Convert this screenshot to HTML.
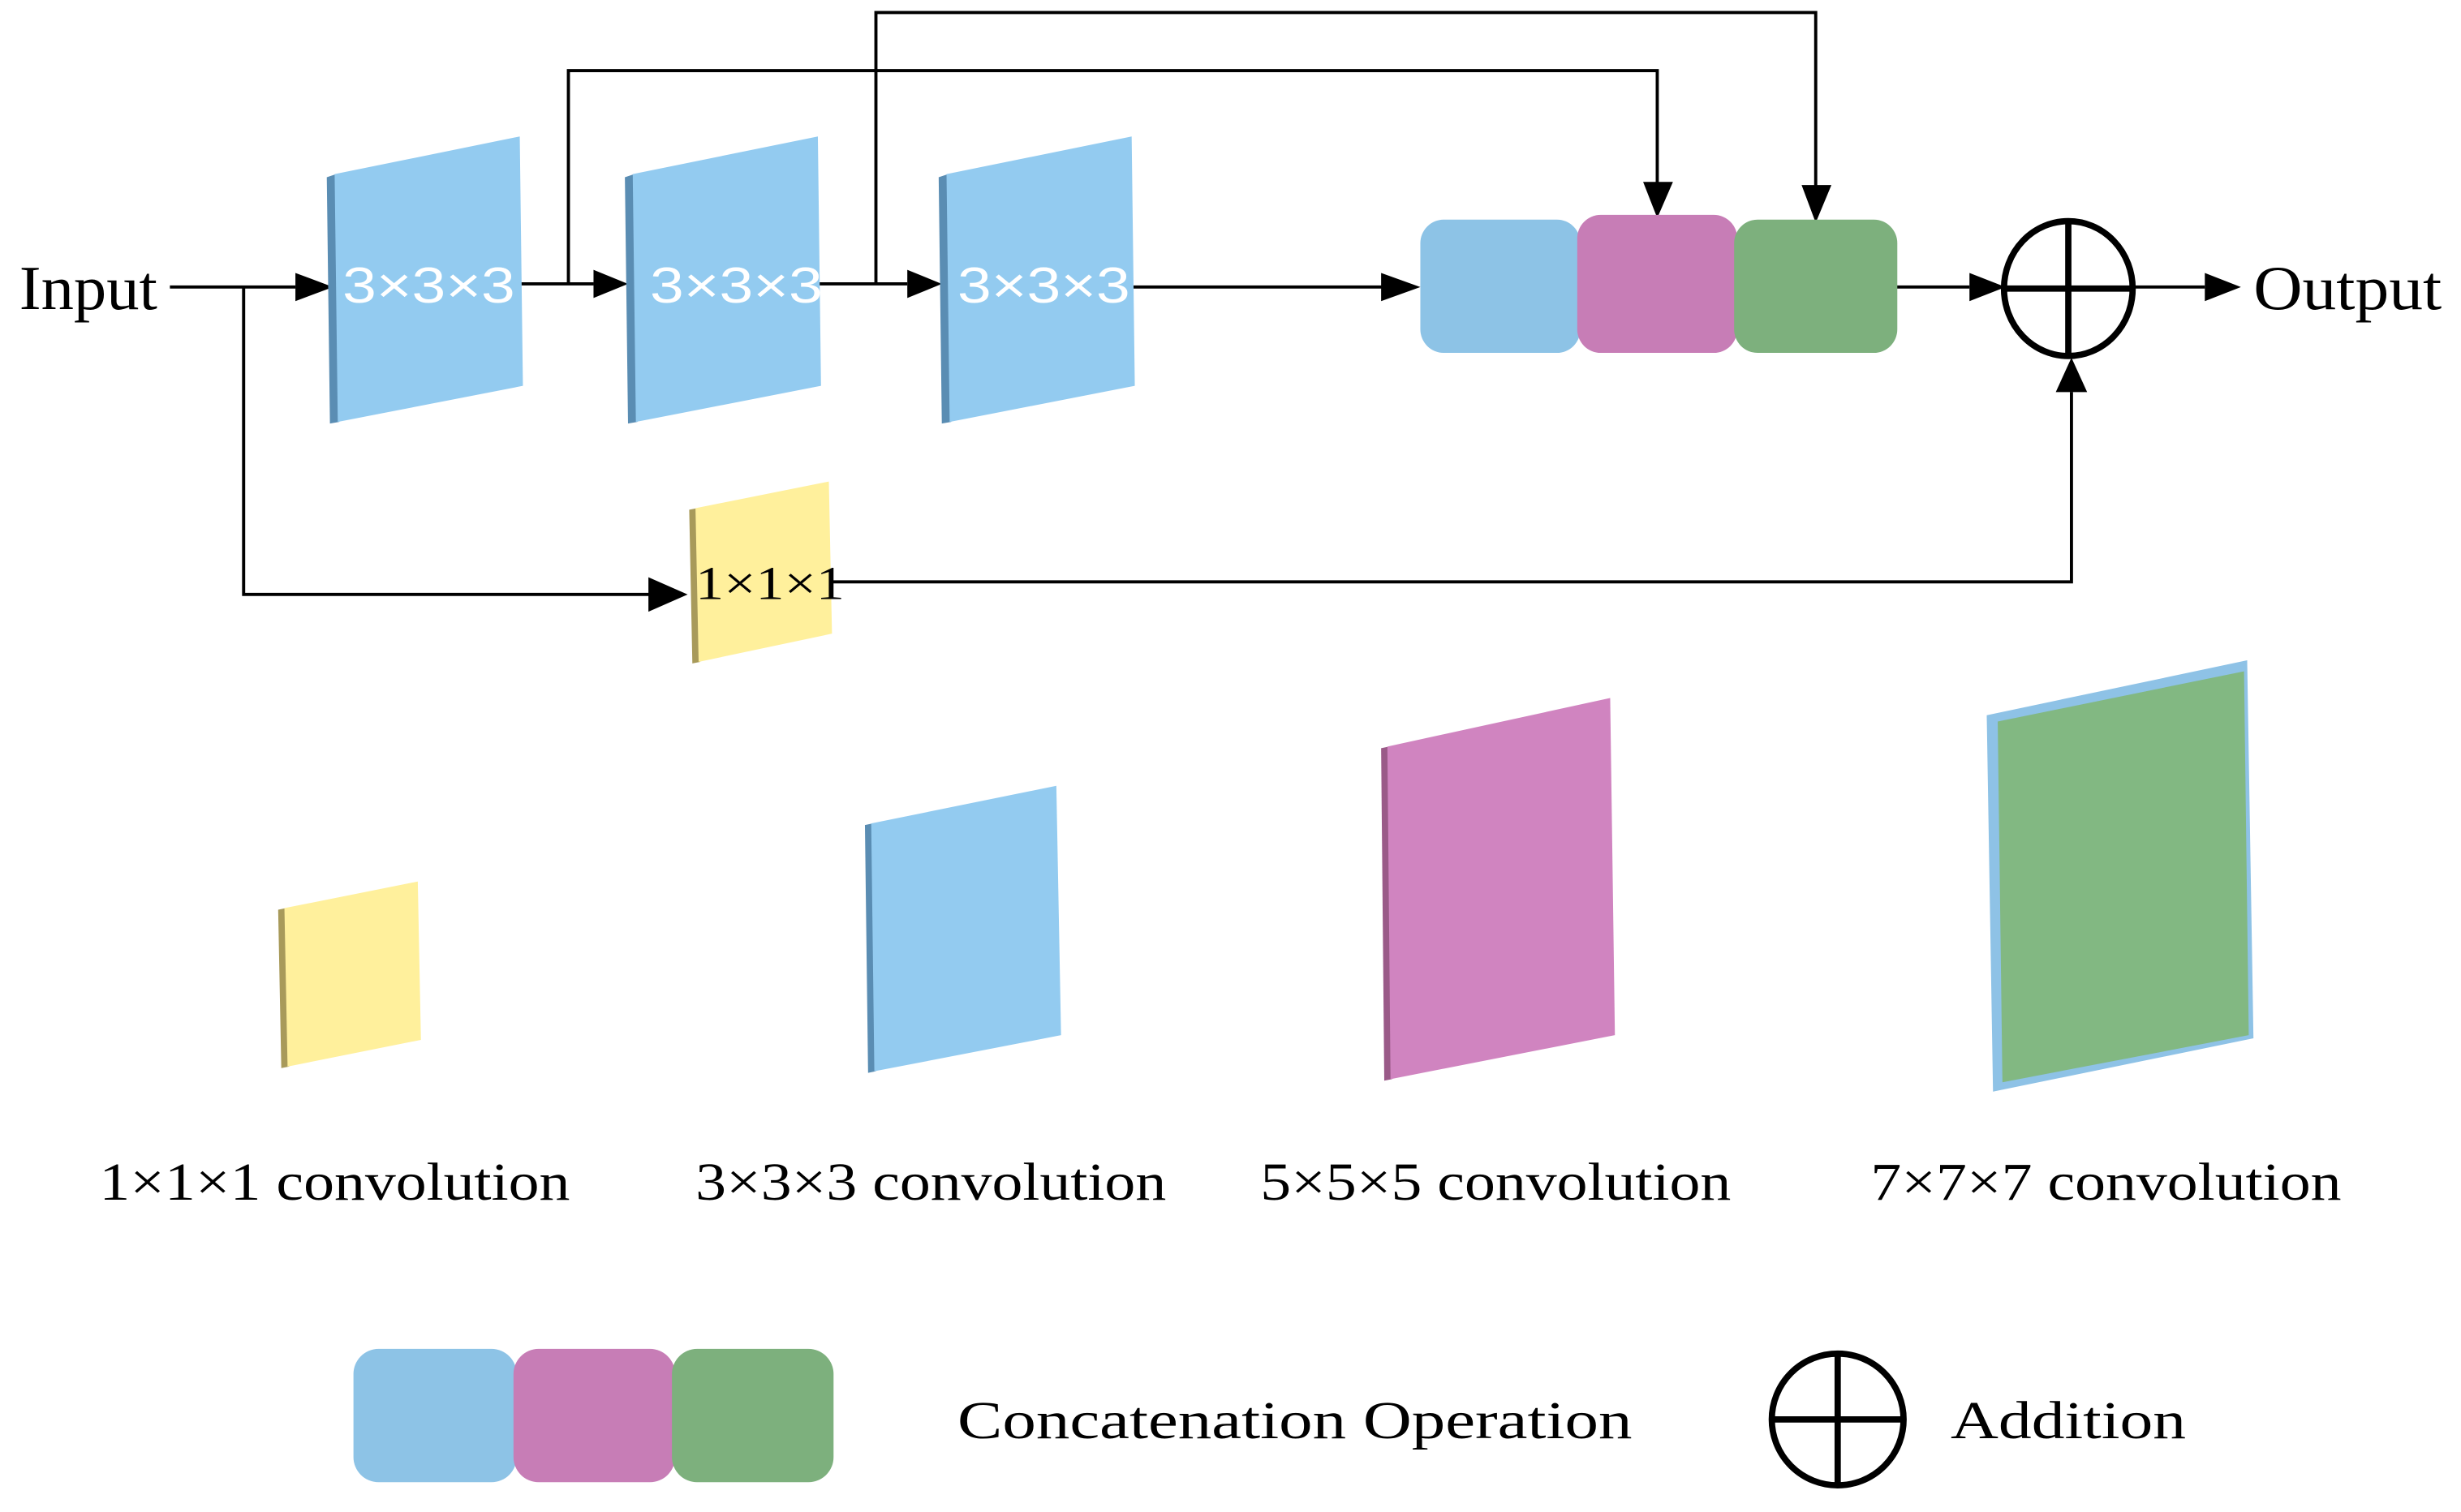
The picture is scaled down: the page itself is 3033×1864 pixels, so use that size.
<!DOCTYPE html>
<html><head><style>html,body{margin:0;padding:0;background:#fff}svg{display:block}</style></head>
<body>
<svg width="3033" height="1864" viewBox="0 0 1568 964" xmlns="http://www.w3.org/2000/svg">
<defs>
<marker id="a" markerWidth="10" markerHeight="10" refX="10" refY="5" orient="auto" markerUnits="userSpaceOnUse" viewBox="0 0 10 10"><path d="M0,0 L10,5 L0,10 z" fill="#000"/></marker>
</defs>
<g font-family="Liberation Serif, serif" fill="#000">
<text x="12" y="197" font-size="40" textLength="88" lengthAdjust="spacingAndGlyphs">Input</text>
<text x="1436" y="197" font-size="40" textLength="120" lengthAdjust="spacingAndGlyphs">Output</text>
</g>
<g stroke="#000" stroke-width="2" fill="none">
<line x1="108" y1="183" x2="188" y2="183"/>
<polyline points="155,183 155,379 415,379"/>
<line x1="330" y1="181" x2="378" y2="181"/>
<line x1="522" y1="181" x2="578" y2="181"/>
<polyline points="362,181 362,45 1056,45 1056,118"/>
<polyline points="558,181 558,8 1157,8 1157,120"/>
<line x1="722" y1="183" x2="882" y2="183"/>
<line x1="1208" y1="183" x2="1255" y2="183"/>
<line x1="1360" y1="183" x2="1405" y2="183"/>
<polyline points="530,371 1320,371 1320,250"/>
</g>
<g fill="#000">
<path d="M188,174 L212,183 L188,192z"/>
<path d="M378,172 L400,181 L378,190z"/>
<path d="M578,172 L600,181 L578,190z"/>
<path d="M413,368 L438,379 L413,390z"/>
<path d="M880,174 L905,183 L880,192z"/>
<path d="M1255,174 L1278,183 L1255,192z"/>
<path d="M1405,174 L1428,183 L1405,192z"/>
<path d="M1047,116 L1056,139 L1066,116z"/>
<path d="M1148,118 L1157,142 L1167,118z"/>
<path d="M1310,250 L1320,228 L1330,250z"/>
</g>
<!-- blue blocks -->
<g>
<polygon points="208,113 214,111 216,269 210,270" fill="#5a8db3"/>
<polygon points="213,111 331,87 333,246 215,269" fill="#93cbf0"/>
<polygon points="398,113 404,111 406,269 400,270" fill="#5a8db3"/>
<polygon points="403,111 521,87 523,246 405,269" fill="#93cbf0"/>
<polygon points="598,113 604,111 606,269 600,270" fill="#5a8db3"/>
<polygon points="603,111 721,87 723,246 605,269" fill="#93cbf0"/>
</g>
<g font-family="Liberation Sans, sans-serif" font-size="32" fill="#fff">
<text x="218" y="193" textLength="110" lengthAdjust="spacingAndGlyphs">3×3×3</text>
<text x="414" y="193" textLength="110" lengthAdjust="spacingAndGlyphs">3×3×3</text>
<text x="610" y="193" textLength="110" lengthAdjust="spacingAndGlyphs">3×3×3</text>
</g>
<!-- yellow -->
<polygon points="439,325 444,324 446,422 441,423" fill="#a89a5a"/>
<polygon points="443,324 528,307 530,404 445,422" fill="#fff09c"/>
<text x="443" y="382" font-family="Liberation Serif, serif" font-size="30" textLength="95" lengthAdjust="spacingAndGlyphs">1×1×1</text>
<!-- concat -->
<rect x="905" y="140" width="102" height="85" rx="15" fill="#8dc3e6"/>
<rect x="1005" y="137" width="102" height="88" rx="15" fill="#c77db6"/>
<rect x="1105" y="140" width="104" height="85" rx="15" fill="#7db07d"/>
<!-- addition -->
<g stroke="#000" stroke-width="4" fill="none">
<ellipse cx="1318" cy="184" rx="41" ry="43"/>
<line x1="1277" y1="184" x2="1359" y2="184"/>
<line x1="1318" y1="141" x2="1318" y2="227"/>
</g>
<!-- legend shapes -->
<polygon points="177,580 182,579 184,680 179,681" fill="#a89a5a"/>
<polygon points="181,579 266,562 268,663 183,680" fill="#fff09c"/>
<polygon points="551,526 556,525 558,683 553,684" fill="#5a8db3"/>
<polygon points="555,525 673,501 676,660 557,683" fill="#93cbf0"/>
<polygon points="880,477 885,476 887,688 882,689" fill="#9a5a88"/>
<polygon points="884,476 1026,445 1029,660 886,688" fill="#d084c0"/>
<polygon points="1266,456 1432,421 1436,662 1270,696" fill="#8ec2e6"/>
<polygon points="1273,460 1430,428 1433,660 1276,690" fill="#82b882"/>
<g font-family="Liberation Serif, serif" font-size="34" fill="#000">
<text x="63" y="765" textLength="300" lengthAdjust="spacingAndGlyphs">1×1×1 convolution</text>
<text x="443" y="765" textLength="300" lengthAdjust="spacingAndGlyphs">3×3×3 convolution</text>
<text x="803" y="765" textLength="300" lengthAdjust="spacingAndGlyphs">5×5×5 convolution</text>
<text x="1192" y="765" textLength="300" lengthAdjust="spacingAndGlyphs">7×7×7 convolution</text>
<text x="610" y="917" textLength="430" lengthAdjust="spacingAndGlyphs">Concatenation Operation</text>
<text x="1243" y="917" textLength="150" lengthAdjust="spacingAndGlyphs">Addition</text>
</g>
<rect x="225" y="860" width="104" height="85" rx="16" fill="#8dc3e6"/>
<rect x="327" y="860" width="103" height="85" rx="16" fill="#c77db6"/>
<rect x="428" y="860" width="103" height="85" rx="16" fill="#7db07d"/>
<g stroke="#000" stroke-width="4" fill="none">
<circle cx="1171" cy="905" r="42"/>
<line x1="1129" y1="905" x2="1213" y2="905"/>
<line x1="1171" y1="863" x2="1171" y2="947"/>
</g>
</svg>
</body></html>
